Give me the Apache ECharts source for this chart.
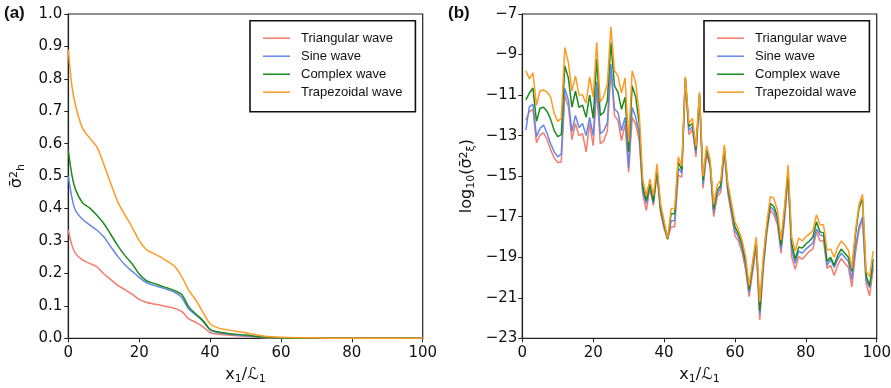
<!DOCTYPE html>
<html>
<head>
<meta charset="utf-8">
<script src="https://cdn.jsdelivr.net/npm/echarts@6/dist/echarts.min.js"></script>
<style>
html,body{margin:0;padding:0;background:#fff;}
#c{width:891px;height:388px;}
</style>
</head>
<body>
<div id="c"></div>
<script>
// ---------- Panel (a) data ----------
const xA = [0,1,2,4,6,8,10,12,14,16,18,20,22,24,26,28,30,32,34,36,38,40,42,45,50,55,60,70,80,90,100];
const triA = [0.334,0.288,0.262,0.242,0.231,0.221,0.199,0.181,0.163,0.150,0.136,0.120,0.111,0.106,0.102,0.097,0.092,0.083,0.060,0.049,0.035,0.018,0.013,0.010,0.006,0.002,0.001,0,0,0,0];
const sineA = [0.500,0.435,0.395,0.367,0.350,0.334,0.313,0.282,0.252,0.226,0.207,0.188,0.172,0.164,0.157,0.150,0.142,0.126,0.090,0.072,0.052,0.026,0.018,0.013,0.008,0.003,0.001,0,0,0,0];
const compA = [0.580,0.505,0.460,0.418,0.402,0.380,0.354,0.320,0.285,0.255,0.230,0.198,0.178,0.170,0.162,0.155,0.147,0.135,0.097,0.075,0.055,0.028,0.020,0.015,0.010,0.004,0.001,0,0,0,0];
const trapA = [0.890,0.780,0.720,0.648,0.618,0.591,0.537,0.477,0.420,0.380,0.342,0.302,0.274,0.262,0.251,0.237,0.222,0.190,0.148,0.118,0.080,0.045,0.033,0.026,0.017,0.007,0.003,0.001,0,0,0];
const yTicksA = [0,0.1,0.2,0.3,0.4,0.5,0.6,0.7,0.8,0.9,1.0];
const xTicks = [0,20,40,60,80,100];

// ---------- Panel (b) data ----------
const xB = Array.from({length:99},(_,i)=>i+1);
const triB = [-12.23,-11.82,-11.7,-13.35,-12.97,-12.86,-13.2,-13.7,-14.1,-14.33,-14.3,-11.0,-11.57,-13.2,-12.4,-13.0,-12.9,-13.8,-12.4,-13.5,
-10.7,-13.4,-13.25,-12.76,-9.7,-12.0,-12.26,-13.25,-12.43,-14.8,-12.1,-12.43,-13.25,-15.9,-16.7,-15.6,-16.45,-14.85,-16.8,-17.6,
-18.1,-17.5,-17.5,-14.95,-15.05,-10.3,-12.95,-12.7,-14.05,-11.1,-15.6,-13.9,-14.55,-17.0,-16.0,-15.8,-13.8,-15.85,-16.9,-17.95,
-18.2,-18.75,-19.6,-20.95,-19.75,-18.5,-22.1,-19.6,-17.8,-16.67,-16.9,-17.4,-18.8,-17.2,-15.0,-18.97,-19.6,-18.97,-19.1,-18.9,
-18.7,-18.6,-17.74,-18.2,-18.2,-19.55,-19.4,-19.9,-19.4,-19.06,-19.3,-19.5,-20.46,-18.8,-17.7,-17.1,-20.3,-20.9,-19.6];
const sineB = [-12.72,-11.57,-11.46,-13.05,-12.64,-12.48,-12.9,-13.4,-13.8,-14.05,-13.9,-10.67,-11.24,-12.8,-12.0,-12.6,-12.4,-13.0,-12.1,-13.0,
-10.35,-12.9,-12.76,-12.35,-9.47,-11.69,-11.85,-12.76,-12.1,-14.57,-11.6,-12.1,-12.9,-15.75,-16.35,-15.5,-16.35,-14.75,-16.65,-17.45,
-18.1,-17.2,-17.2,-14.6,-14.85,-10.2,-12.75,-12.55,-13.85,-11.0,-15.4,-13.75,-14.45,-16.8,-15.85,-15.6,-13.7,-15.7,-16.7,-17.7,
-18.0,-18.55,-19.4,-20.75,-19.5,-18.25,-21.8,-19.35,-17.6,-16.5,-16.7,-17.2,-18.6,-16.9,-14.9,-18.6,-19.3,-18.7,-18.8,-18.6,
-18.45,-18.3,-17.6,-17.9,-17.95,-19.4,-19.1,-19.5,-19.1,-18.8,-19.0,-19.2,-20.1,-18.5,-17.5,-17.0,-20.1,-20.5,-19.4];
const compB = [-11.24,-10.9,-10.65,-12.3,-11.65,-11.6,-11.8,-12.2,-12.75,-13.05,-12.95,-9.55,-10.15,-11.6,-10.8,-11.6,-11.5,-12.1,-11.0,-12.15,
-9.22,-12.0,-11.85,-11.28,-8.4,-10.54,-10.87,-11.7,-11.1,-13.8,-10.54,-11.1,-12.43,-15.55,-16.2,-15.4,-16.25,-14.65,-16.55,-17.35,
-18.1,-16.85,-16.85,-14.3,-14.7,-10.15,-12.55,-12.4,-13.7,-10.95,-15.2,-13.65,-14.35,-16.6,-15.7,-15.45,-13.6,-15.55,-16.5,-17.5,
-17.85,-18.35,-19.2,-20.6,-19.35,-18.15,-21.65,-19.2,-17.5,-16.35,-16.5,-17.0,-18.4,-16.7,-14.8,-18.3,-19.1,-18.5,-18.55,-18.35,
-18.2,-18.0,-17.25,-17.75,-17.8,-19.2,-19.0,-19.4,-18.9,-18.6,-18.8,-19.0,-19.7,-17.9,-16.6,-16.1,-19.9,-20.4,-19.1];
const trapB = [-9.8,-10.2,-9.9,-11.5,-10.8,-10.75,-10.85,-11.1,-11.9,-12.3,-12.15,-8.65,-9.4,-10.8,-10.05,-11.0,-11.0,-11.4,-10.1,-11.1,
-8.4,-11.35,-11.05,-10.45,-7.63,-9.8,-10.05,-10.9,-10.15,-13.3,-9.8,-10.4,-11.95,-15.2,-15.95,-15.15,-15.95,-14.4,-16.35,-17.2,
-18.05,-16.6,-16.6,-14.05,-14.5,-10.1,-12.4,-12.15,-13.55,-10.85,-15.0,-13.5,-14.2,-16.4,-15.45,-15.2,-13.45,-15.35,-16.3,-17.25,
-17.65,-18.15,-18.95,-20.4,-19.2,-18.0,-21.2,-19.0,-17.3,-16.0,-16.1,-16.7,-18.15,-16.5,-14.45,-18.0,-18.7,-18.05,-18.2,-18.0,
-17.85,-17.7,-16.9,-17.4,-17.4,-18.65,-18.6,-19.0,-18.5,-18.2,-18.4,-18.65,-19.55,-17.7,-16.4,-15.9,-19.7,-19.95,-18.7];
const yTicksB = [-23,-21,-19,-17,-15,-13,-11,-9,-7];

const names = ['Triangular wave','Sine wave','Complex wave','Trapezoidal wave'];
const colors = ['#F77A6C','#6388EA','#1D8A1D','#FF9A22'];

const FONT = "'Liberation Sans', Arial, sans-serif";
const TICKFONT = "'DejaVu Sans', sans-serif";
const minus = v => (v < 0 ? '\u2212' + Math.abs(v) : String(v));
const pairs = (xs, ys) => xs.map((x, i) => [x, ys[i]]);

const richBase = {
  n: {fontSize: 16, fontFamily: TICKFONT, color: '#111'},
  sub: {fontSize: 11, fontFamily: TICKFONT, color: '#111', padding: [7,0,0,0]},
  sup: {fontSize: 11, fontFamily: TICKFONT, color: '#111', padding: [0,0,7,0]}
};

function gridCfg(left){
  return {left: left, top: 14, width: 354.4, height: 324.3, show: true,
          borderColor: '#222', borderWidth: 1.2, backgroundColor: 'transparent',
          containLabel: false, outerBoundsMode: 'none'};
}
function xAxisCfg(idx){
  return {
    type: 'value', gridIndex: idx, min: 0, max: 100, interval: 20,
    name: '{n|x}{sub|1}{n|/ℒ}{sub|1}', nameLocation: 'middle', nameGap: 28,
    nameTextStyle: {rich: richBase},
    axisLine: {show: true, onZero: false, lineStyle: {color: '#222', width: 1.2}},
    axisTick: {show: true, inside: false, length: 4, lineStyle: {color: '#222'}, customValues: xTicks},
    axisLabel: {color: '#111', fontSize: 15, fontFamily: TICKFONT, margin: 7, customValues: xTicks},
    splitLine: {show: false}
  };
}
function legendCfg(left){
  return {
    data: names, orient: 'vertical', left: left, top: 20.7,
    itemWidth: 27, itemHeight: 14, itemGap: 5,
    padding: [11, 13, 13, 13],
    borderColor: '#111', borderWidth: 1.6, borderRadius: 0,
    backgroundColor: '#fff',
    textStyle: {fontSize: 13, fontFamily: FONT, color: '#111', padding: [0,0,0,6]},
    icon: 'path://M0,0 L27,0 L27,1.5 L0,1.5 Z',
    selectedMode: false
  };
}

const chart = echarts.init(document.getElementById('c'), null, {renderer: 'canvas'});

const series = [];
const dataA = [triA, sineA, compA, trapA];
const dataB = [triB, sineB, compB, trapB];
names.forEach((nm, i) => {
  series.push({
    name: nm, type: 'line', xAxisIndex: 0, yAxisIndex: 0,
    data: pairs(xA, dataA[i]), smooth: 0.35, symbol: 'none',
    lineStyle: {color: colors[i], width: 1.5}, itemStyle: {color: colors[i]},
    z: 2 + i, animation: false
  });
});
names.forEach((nm, i) => {
  series.push({
    name: nm, type: 'line', xAxisIndex: 1, yAxisIndex: 1,
    data: pairs(xB, dataB[i]), smooth: false, symbol: 'none',
    lineStyle: {color: colors[i], width: 1.5}, itemStyle: {color: colors[i]},
    z: 2 + i, animation: false
  });
});

chart.setOption({
  animation: false,
  backgroundColor: '#fff',
  textStyle: {fontFamily: FONT},
  grid: [gridCfg(68.3), gridCfg(522.3)],
  xAxis: [xAxisCfg(0), xAxisCfg(1)],
  yAxis: [
    {
      type: 'value', gridIndex: 0, min: 0, max: 1, interval: 0.1,
      name: '{n|σ̄}{sup|2}{sub|h}', nameLocation: 'middle', nameGap: 42, nameRotate: 90,
      nameTextStyle: {rich: richBase},
      axisLine: {show: true, onZero: false, lineStyle: {color: '#222', width: 1.2}},
      axisTick: {show: true, inside: false, length: 4, lineStyle: {color: '#222'}, customValues: yTicksA},
      axisLabel: {color: '#111', fontSize: 15, fontFamily: TICKFONT, margin: 6,
                  customValues: yTicksA, formatter: v => v.toFixed(1)},
      splitLine: {show: false}
    },
    {
      type: 'value', gridIndex: 1, min: -23, max: -7,
      name: '{n|log}{sub|10}{n|(σ̄}{sup|2}{sub|ξ}{n|)}', nameLocation: 'middle', nameGap: 46, nameRotate: 90,
      nameTextStyle: {rich: richBase},
      axisLine: {show: true, onZero: false, lineStyle: {color: '#222', width: 1.2}},
      axisTick: {show: true, inside: false, length: 4, lineStyle: {color: '#222'}, customValues: yTicksB},
      axisLabel: {color: '#111', fontSize: 15, fontFamily: TICKFONT, margin: 5,
                  customValues: yTicksB, formatter: minus},
      splitLine: {show: false}
    }
  ],
  legend: [legendCfg(250), legendCfg(704)],
  graphic: [
    {type: 'text', left: 4, top: 5, style: {text: '(a)', fontSize: 17, fontWeight: 'bold', fontFamily: FONT, fill: '#111'}},
    {type: 'text', left: 448, top: 5, style: {text: '(b)', fontSize: 17, fontWeight: 'bold', fontFamily: FONT, fill: '#111'}}
  ],
  series: series
});
</script>
</body>
</html>
